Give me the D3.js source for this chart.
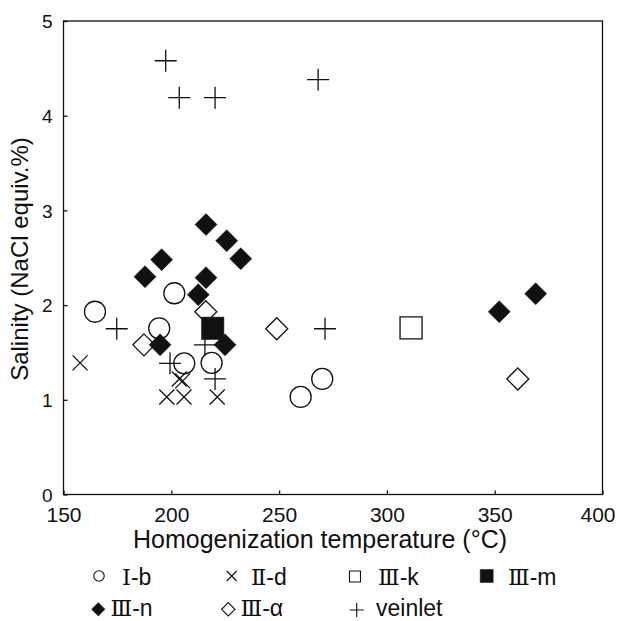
<!DOCTYPE html>
<html>
<head>
<meta charset="utf-8">
<script src="https://cdn.jsdelivr.net/npm/d3@7"></script>
<style>
  html, body { margin: 0; padding: 0; background: #fff; }
  svg { display: block; font-family: "Liberation Sans", Arial, sans-serif; }
</style>
</head>
<body>
<svg id="chart" width="617" height="621"></svg>
<script>
// Homogenization temperature (°C) and salinity (wt% NaCl equiv.) per sample group
const seriesLabels = ["Ⅰ-b", "Ⅱ-d", "Ⅲ-k", "Ⅲ-m", "Ⅲ-n", "Ⅲ-α", "veinlet"];

const groupIb = [[164.6, 1.93], [201.4, 2.125], [194.4, 1.755], [206.0, 1.385], [218.7, 1.39], [260.0, 1.03], [270.0, 1.22]];
const groupIId = [[157.7, 1.39], [203.7, 1.22], [205.3, 1.20], [197.9, 1.03], [205.9, 1.03], [221.3, 1.03]];
const groupIIIk = [[311.2, 1.76]];
const groupIIIm = [[219.2, 1.755]];
const groupIIIn = [[187.8, 2.30], [195.5, 2.48], [216.1, 2.85], [225.7, 2.68], [232.2, 2.49], [216.1, 2.29], [212.5, 2.11], [194.8, 1.58], [224.9, 1.58], [352.1, 1.93], [369.0, 2.12]];
const groupIIIalpha = [[187.3, 1.58], [216.0, 1.93], [248.9, 1.75], [360.7, 1.22]];
const groupVeinlet = [[197.4, 4.58], [203.7, 4.19], [220.3, 4.19], [268.1, 4.38], [174.7, 1.75], [271.3, 1.75], [215.6, 1.58], [199.4, 1.385], [220.3, 1.22]];

const xTicks = [150, 200, 250, 300, 350, 400];
const yTicks = [0, 1, 2, 3, 4, 5];
const xTitle = "Homogenization temperature (°C)";
const yTitle = "Salinity (NaCl equiv.%)";

const svg = d3.select("#chart");
const plot = { left: 63.5, right: 602.5, top: 21, bottom: 494.5 };

const x = d3.scaleLinear().domain([150, 400]).range([plot.left, plot.right]);
const y = d3.scaleLinear().domain([0, 5]).range([plot.bottom, plot.top]);

const ink = "#111";

// marker path builders (size = half extent in px)
const shapes = {
  circle: r => `M${-r},0A${r},${r} 0 1,0 ${r},0A${r},${r} 0 1,0 ${-r},0Z`,
  cross: h => `M${-h},${-h}L${h},${h}M${-h},${h}L${h},${-h}`,
  square: h => `M${-h},${-h}H${h}V${h}H${-h}Z`,
  diamond: h => `M0,${-h}L${h},0L0,${h}L${-h},0Z`,
  plus: h => `M${-h},0H${h}M0,${-h}V${h}`
};

const series = [
  { label: seriesLabels[0], data: groupIb, shape: "circle", filled: false, size: 10.5, lsize: 5.2 },
  { label: seriesLabels[1], data: groupIId, shape: "cross", filled: false, size: 7.5, lsize: 5 },
  { label: seriesLabels[2], data: groupIIIk, shape: "square", filled: false, size: 11, lsize: 5.5 },
  { label: seriesLabels[3], data: groupIIIm, shape: "square", filled: true, size: 11.2, lsize: 6.5 },
  { label: seriesLabels[4], data: groupIIIn, shape: "diamond", filled: true, size: 11, lsize: 6.7 },
  { label: seriesLabels[5], data: groupIIIalpha, shape: "diamond", filled: false, size: 11, lsize: 6.7 },
  { label: seriesLabels[6], data: groupVeinlet, shape: "plus", filled: false, size: 11, lsize: 7 }
];

// frame
svg.append("rect")
  .attr("x", plot.left).attr("y", plot.top)
  .attr("width", plot.right - plot.left).attr("height", plot.bottom - plot.top)
  .attr("fill", "none").attr("stroke", ink).attr("stroke-width", 1.3);

// axes with inward ticks
const xAxis = svg.append("g")
  .attr("transform", `translate(0,${plot.bottom})`)
  .call(d3.axisBottom(x).tickValues(xTicks).tickSizeInner(-4).tickSizeOuter(0).tickFormat(d3.format("d")));
xAxis.select(".domain").remove();
xAxis.selectAll(".tick line").attr("stroke", ink).attr("stroke-width", 1.3);
xAxis.selectAll(".tick text")
  .attr("y", 27.8).attr("dy", 0)
  .attr("fill", ink).style("font-size", "21px");
// keep the last label inside the canvas
xAxis.selectAll(".tick text").filter(d => d === 400)
  .attr("text-anchor", "end").attr("x", 12.5);

const yAxis = svg.append("g")
  .attr("transform", `translate(${plot.left},0)`)
  .call(d3.axisLeft(y).tickValues(yTicks).tickSizeInner(-4).tickSizeOuter(0).tickFormat(d3.format("d")));
yAxis.select(".domain").remove();
yAxis.selectAll(".tick line").attr("stroke", ink).attr("stroke-width", 1.3);
yAxis.selectAll(".tick text")
  .attr("x", -11).attr("dy", "0.36em")
  .attr("fill", ink).style("font-size", "19px");

svg.selectAll("g").attr("font-family", null).attr("font-size", null);

// axis titles
svg.append("text")
  .attr("x", 320).attr("y", 548)
  .attr("text-anchor", "middle")
  .attr("fill", ink).style("font-size", "25px")
  .text(xTitle);

svg.append("text")
  .attr("transform", `translate(28,259) rotate(-90)`)
  .attr("text-anchor", "middle")
  .attr("fill", ink).style("font-size", "24px")
  .text(yTitle);

// data markers
const marks = svg.append("g");
series.forEach(s => {
  marks.append("g").selectAll("path")
    .data(s.data)
    .join("path")
    .attr("transform", d => `translate(${x(d[0])},${y(d[1])})`)
    .attr("d", shapes[s.shape](s.size))
    .attr("fill", s.filled ? ink : "none")
    .attr("stroke", ink)
    .attr("stroke-width", s.filled ? 0.5 : 1.3);
});

// legend
const legendPos = [
  { mx: 99, my: 576, tx: 122, ty: 585 },
  { mx: 231.7, my: 576, tx: 251, ty: 585 },
  { mx: 355, my: 576.5, tx: 378, ty: 585 },
  { mx: 486.7, my: 576, tx: 508, ty: 585 },
  { mx: 98.3, my: 609.3, tx: 110.5, ty: 616 },
  { mx: 228.3, my: 609.3, tx: 240.5, ty: 616 },
  { mx: 356.7, my: 610, tx: 376, ty: 616 }
];
const numeralRe = /^([\u2160-\u216F]+)(.*)$/;
const legend = svg.append("g");
series.forEach((s, i) => {
  const p = legendPos[i];
  legend.append("path")
    .attr("transform", `translate(${p.mx},${p.my})`)
    .attr("d", shapes[s.shape](s.lsize))
    .attr("fill", s.filled ? ink : "none")
    .attr("stroke", ink)
    .attr("stroke-width", s.filled ? 0.5 : 1.1);
  const t = legend.append("text")
    .attr("x", p.tx).attr("y", p.ty)
    .attr("fill", ink).style("font-size", "23px");
  const m = s.label.match(numeralRe);
  if (m) {
    // Roman numerals set in a serif face, suffix in the sans face
    t.append("tspan")
      .style("font-family", '"DejaVu Serif", "Liberation Serif", serif')
      .style("font-size", "22.5px")
      .text(m[1]);
    t.append("tspan").text(m[2]);
  } else {
    t.text(s.label);
  }
});
</script>
</body>
</html>
